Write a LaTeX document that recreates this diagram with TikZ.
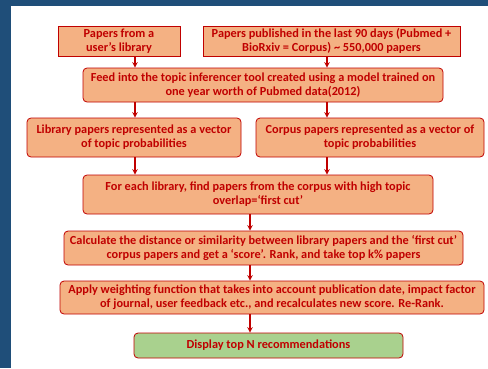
\documentclass[tikz,border=0pt]{standalone}
\usepackage{fontspec}
\setmainfont{Carlito}
\usetikzlibrary{arrows}
\definecolor{slideblue}{HTML}{1F4E79}
\definecolor{boxred}{HTML}{C00000}
\definecolor{boxorange}{HTML}{F4B183}
\definecolor{boxgreen}{HTML}{A9D18E}
\tikzstyle{source} = [rectangle, draw=boxred, line width=0.8pt, fill=boxorange, text=boxred, font=\bfseries\fontsize{12.3}{14}\selectfont, align=center, inner sep=1pt]
\tikzstyle{process} = [source, rounded corners=4pt]
\tikzstyle{result} = [process, fill=boxgreen]
\tikzstyle{arrow} = [line width=1.4pt, boxred, ->, >=stealth]

\begin{document}
\begin{tikzpicture}[x=1pt, y=-1pt]
    % slide background
    \fill[slideblue] (0,0) rectangle (488,368);
    \fill[white] (11,6) rectangle (488,368);
    \useasboundingbox (0,0) rectangle (488,368);

    \coordinate (lcol) at (135,0);
    \coordinate (rcol) at (327,0);
    \coordinate (ccol) at (250,0);

    \node (lib) [source, minimum width=122pt, minimum height=30pt] at (119,41) {Papers from a\\user’s library};
    \node (pub) [source, minimum width=257pt, minimum height=30pt] at (331.5,41) {Papers published in the last 90 days (Pubmed +\\BioRxiv = Corpus) \textasciitilde{} 550,000 papers};
    \node (feed) [process, minimum width=360pt, minimum height=34pt] at (263,85) {Feed into the topic inferencer tool created using a model trained on\\one year worth of Pubmed data(2012)};
    \node (libvec) [process, minimum width=214pt, minimum height=39pt] at (134,137.5) {Library papers represented as a vector\\of topic probabilities};
    \node (corvec) [process, minimum width=228pt, minimum height=39pt] at (370,137.5) {Corpus papers represented as a vector of\\topic probabilities};
    \node (cut) [process, minimum width=350pt, minimum height=39pt] at (258,194.5) {For each library, find papers from the corpus with high topic\\overlap=‘first cut’};
    \node (dist) [process, minimum width=399pt, minimum height=34pt] at (263.5,248) {Calculate the distance or similarity between library papers and the ‘first cut’\\corpus papers and get a ‘score’. Rank, and take top k\% papers};
    \node (weight) [process, minimum width=424pt, minimum height=33pt] at (272,297.5) {Apply weighting function that takes into account publication date, impact factor\\of journal, user feedback etc., and recalculates new score. Re-Rank.};
    \node (show) [result, minimum width=269pt, minimum height=25pt] at (268.5,345.5) {Display top N recommendations};

    \draw [arrow] (lib.south -| lcol) -- (feed.north -| lcol);
    \draw [arrow] (pub.south -| rcol) -- (feed.north -| rcol);
    \draw [arrow] (feed.south -| lcol) -- (libvec.north -| lcol);
    \draw [arrow] (feed.south -| rcol) -- (corvec.north -| rcol);
    \draw [arrow] (libvec.south -| lcol) -- (cut.north -| lcol);
    \draw [arrow] (corvec.south -| rcol) -- (cut.north -| rcol);
    \draw [arrow] (cut.south -| ccol) -- (dist.north -| ccol);
    \draw [arrow] (dist.south -| ccol) -- (weight.north -| ccol);
    \draw [arrow] (weight.south -| ccol) -- (show.north -| ccol);
\end{tikzpicture}
\end{document}
